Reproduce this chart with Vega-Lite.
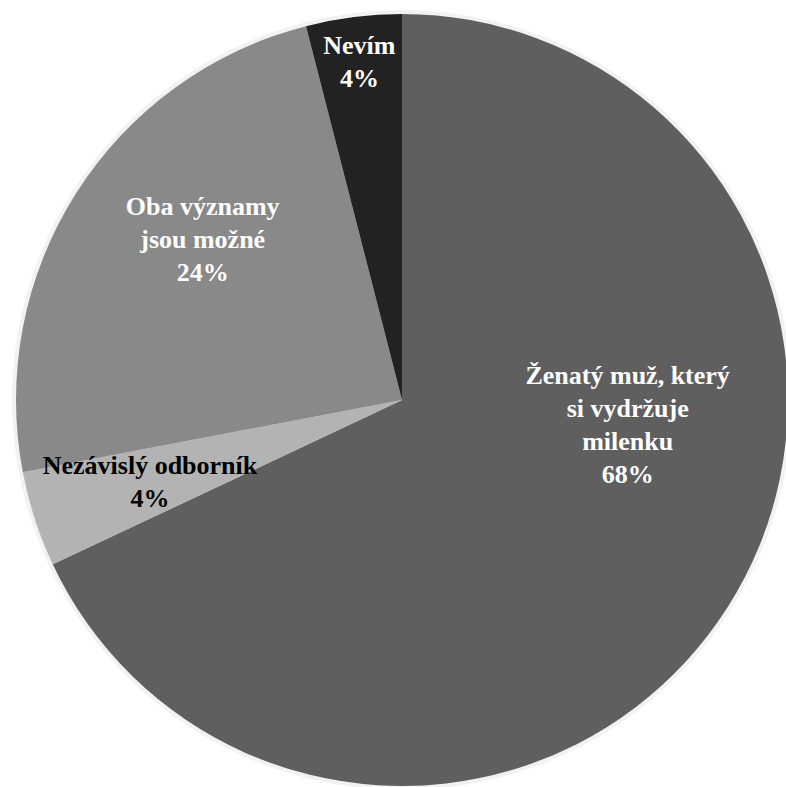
{
  "$schema": "https://vega.github.io/schema/vega-lite/v6.json",
  "width": 768,
  "height": 774,
  "autosize": {"type": "none"},
  "padding": {"left": 18, "top": 13, "right": 0, "bottom": 0},
  "background": "white",
  "view": {"stroke": null},
  "data": {
    "values": [
      {"label": "Ženatý muž, který\nsi vydržuje\nmilenku", "value": 68, "rank": 1},
      {"label": "Nezávislý odborník", "value": 4, "rank": 2},
      {"label": "Oba významy\njsou možné", "value": 24, "rank": 3},
      {"label": "Nevím", "value": 4, "rank": 4}
    ]
  },
  "transform": [
    {"calculate": "datum.label + '\\n' + datum.value + '%'", "as": "txt"}
  ],
  "encoding": {
    "theta": {"field": "value", "type": "quantitative", "stack": true},
    "order": {"field": "rank", "type": "quantitative"}
  },
  "layer": [
    {
      "mark": {"type": "arc", "radius": 390, "fill": "#000000", "opacity": 0.05, "stroke": null}
    },
    {
      "mark": {"type": "arc", "radius": 386, "stroke": null},
      "encoding": {
        "color": {
          "field": "label",
          "type": "nominal",
          "scale": {
            "domain": ["Ženatý muž, který\nsi vydržuje\nmilenku", "Nezávislý odborník", "Oba významy\njsou možné", "Nevím"],
            "range": ["#5f5f5f", "#b3b3b3", "#898989", "#222222"]
          },
          "legend": null
        }
      }
    },
    {
      "mark": {
        "type": "text",
        "font": "Times New Roman",
        "fontWeight": "bold",
        "fontSize": 26,
        "lineHeight": 33,
        "lineBreak": "\n",
        "align": "center",
        "baseline": "middle",
        "radius": {"expr": "datum.rank == 1 ? 227 : datum.rank == 2 ? 265 : datum.rank == 3 ? 255 : 340"},
        "dx": {"expr": "datum.rank == 1 ? 34 : datum.rank == 3 ? 16 : 0"},
        "dy": {"expr": "datum.rank == 1 ? -146 : datum.rank == 2 ? -16 : datum.rank == 3 ? -56 : -17"},
        "fill": {"expr": "datum.rank == 2 ? '#000000' : '#ffffff'"}
      },
      "encoding": {
        "text": {"field": "txt", "type": "nominal"}
      }
    }
  ]
}
